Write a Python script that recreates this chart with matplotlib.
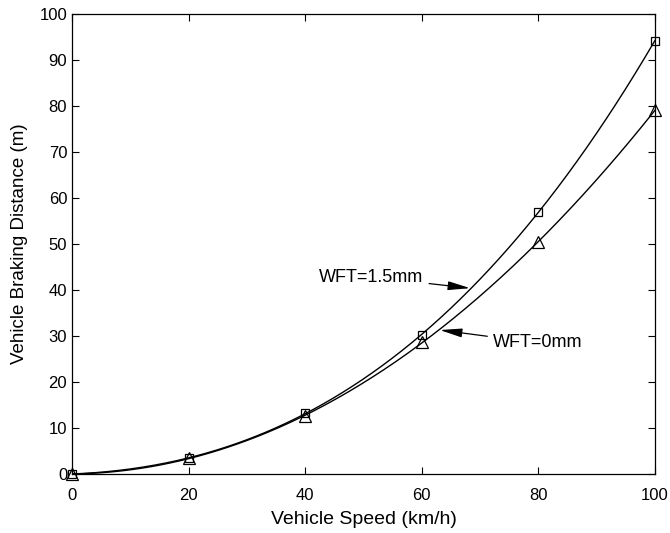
import numpy as np
import matplotlib
matplotlib.use("Agg")
import matplotlib.pyplot as plt

plt.rcParams['font.family'] = ['Liberation Sans', 'DejaVu Sans']

speed = [0, 20, 40, 60, 80, 100]
wft15 = [0.0, 3.5, 13.2, 30.2, 57.0, 94.2]
wft0 = [0.0, 3.4, 12.6, 28.7, 50.4, 79.1]
xticks = [0, 20, 40, 60, 80, 100]
yticks = [0, 10, 20, 30, 40, 50, 60, 70, 80, 90, 100]

fig = plt.figure(figsize=(6.7, 5.33), dpi=100)
ax = fig.add_axes([0.1075, 0.1107, 0.870, 0.863])

xs = np.linspace(0, 100, 300)
for vals, mk, ms in [(wft15, 's', 6), (wft0, '^', 9)]:
    c = np.polyfit(speed, vals, 3)
    ax.plot(xs, np.polyval(c, xs), color='black', lw=1.0)
    ax.plot(speed, vals, linestyle='none', marker=mk, markersize=ms, clip_on=False,
            markerfacecolor='none', markeredgecolor='black', markeredgewidth=0.9, zorder=3)

ax.set_xlim(0, 100)
ax.set_ylim(0, 100)
ax.set_xticks(xticks)
ax.set_yticks(yticks)
ax.tick_params(direction='in', top=True, right=True, labelsize=12, length=5, width=0.8)
ax.tick_params(axis='x', pad=10)
for s in ax.spines.values():
    s.set_linewidth(0.9)
ax.set_xlabel('Vehicle Speed (km/h)', fontsize=14, labelpad=6)
ax.set_ylabel('Vehicle Braking Distance (m)', fontsize=13.5, labelpad=8)

arrow = dict(arrowstyle='-|>,head_length=0.9,head_width=0.18', color='black',
             lw=0.9, mutation_scale=15, shrinkA=2, shrinkB=0)
ax.annotate('WFT=1.5mm', xy=(68.3, 40.4), xytext=(60.3, 42.8), ha='right', va='center',
            fontsize=13, arrowprops=arrow)
ax.annotate('WFT=0mm', xy=(63.1, 31.3), xytext=(72.2, 28.5), ha='left', va='center',
            fontsize=13, arrowprops=arrow)

fig.savefig('out.png', dpi=100)
